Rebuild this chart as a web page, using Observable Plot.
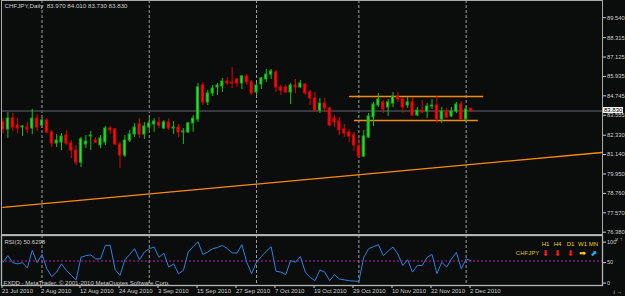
<!DOCTYPE html>
<html><head><meta charset="utf-8">
<script src="https://cdn.jsdelivr.net/npm/d3@7"></script>
<script src="https://cdn.jsdelivr.net/npm/@observablehq/plot@0.6"></script>
<style>
html,body{margin:0;padding:0;background:#0b0c0c;}
#chart{position:relative;width:625px;height:296px;background:#0b0c0c;overflow:hidden;font-family:"Liberation Sans",Arial,sans-serif;}
#chart svg{position:absolute;left:0;}
#bidbox{position:absolute;background:#f4f4f4;color:#000;font-size:6px;line-height:6.2px;height:6.2px;padding:0 1px;left:603px;overflow:hidden;}
</style></head><body><div id="chart"></div>
<script>
// ---- data (CHFJPY daily, 21 Jul 2010 .. 2 Dec 2010) ----
const open = [83.13,82.70,83.37,82.94,82.82,82.82,82.76,83.37,82.94,83.25, 82.52,81.84,81.90,82.33,81.84,81.41,80.67,81.78,82.27,82.02, 81.72,81.90,82.76,82.70,81.78,81.10,82.02,82.39,83.01,82.39, 82.82,83.01,83.13,82.76,83.13,82.76,82.82,82.52,82.52,83.07, 83.31,85.40,84.36,84.91,85.28,85.34,85.64,85.58,85.77,85.52, 85.95,85.58,84.97,85.46,85.77,86.07,86.20,85.28,85.28,84.97, 85.40,85.28,85.46,84.97,84.60,83.86,84.29,83.99,83.37,83.19, 82.70,82.52,82.33,81.66,81.04,82.21,83.44,84.17,84.36,84.05, 84.29,84.72,84.54,84.17,84.36,83.56,83.86,83.80,84.11,84.17, 83.31,83.80,83.50,83.80,84.23,83.31,83.970];
const high = [83.37,83.74,83.68,83.37,82.94,83.13,83.93,83.62,83.37,83.37, 82.64,82.39,82.45,82.64,82.02,81.72,82.21,82.33,82.58,82.21, 82.33,82.88,82.88,82.76,81.90,82.33,82.64,83.07,83.37,83.13, 83.37,83.37,83.44,83.25,83.37,83.19,83.01,82.76,83.13,83.56, 85.52,85.58,85.09,85.40,85.52,85.83,85.89,86.50,85.83,86.01, 86.07,85.71,85.52,85.89,86.38,86.38,86.32,85.40,85.40,85.52, 85.77,85.71,85.52,85.09,84.97,84.60,84.60,84.05,83.56,83.44, 83.01,82.70,82.52,82.15,82.64,83.68,84.36,84.91,84.48,84.54, 84.97,84.97,84.66,84.66,84.66,84.05,84.48,84.29,84.54,84.72, 84.05,83.99,84.05,84.36,84.42,84.11,84.010];
const low = [82.45,82.15,82.58,82.45,82.27,82.45,82.39,82.58,82.76,82.45, 81.60,81.60,81.41,81.72,80.92,80.49,80.37,81.53,81.41,81.84, 81.53,81.72,82.39,81.72,80.31,80.98,81.90,82.21,82.15,82.09, 82.64,82.52,82.76,82.70,82.64,82.39,82.21,81.78,82.45,82.52, 83.13,84.17,84.17,84.72,84.79,84.97,85.40,85.21,85.28,85.15, 85.40,84.79,84.79,85.15,85.58,85.77,84.97,84.79,84.91,84.23, 84.91,85.21,84.79,84.17,83.74,83.68,83.74,82.88,82.82,82.33, 82.21,81.90,81.35,80.92,80.98,82.15,82.88,84.05,83.68,83.50, 84.05,84.36,83.68,83.99,83.50,83.50,83.68,83.37,83.93,83.07, 83.07,83.37,83.44,83.68,83.25,83.13,83.730];
const close = [82.70,83.37,82.82,82.76,82.88,82.70,83.37,82.82,83.25,82.52, 81.84,82.02,82.27,81.84,81.41,80.67,82.09,81.96,82.33,81.90, 82.15,82.76,82.64,81.78,81.10,82.02,82.39,82.82,82.39,82.88, 83.07,83.19,82.94,83.13,82.76,82.82,82.52,82.58,83.07,83.37, 85.28,84.36,84.91,85.21,85.40,85.64,85.52,85.52,85.52,85.95, 85.58,84.91,85.40,85.83,86.07,86.26,85.28,85.09,84.97,85.40, 85.28,85.52,84.91,84.60,83.86,84.29,83.99,82.94,83.13,82.64, 82.45,82.27,81.72,81.04,82.27,83.50,84.23,84.54,83.93,84.36, 84.72,84.54,84.05,84.36,83.56,83.86,83.74,84.11,84.17,83.31, 83.80,83.44,83.80,84.23,83.31,83.93,83.830];
const rsi = [47,63,46,43,46,33,76,46,66,31, 12,23,43,27,15,4,59,63,65,55, 55,88,88,29,15,53,66,80,53,72, 80,84,59,69,35,43,19,27,72,85, 97,66,72,80,83,88,80,70,69,90, 47,19,47,61,74,85,25,23,17,51, 47,61,23,10,2,28,23,2,17,6, 4,2,1,0.5,59,80,85,90,63,74, 84,67,39,53,23,39,39,59,66,19, 47,35,55,71,31,55,50.63];
const dateTickIdx = [0,8,16,24,32,40,48,56,64,72,80,88,96];
const dateTickLabels = ["21 Jul 2010","2 Aug 2010","12 Aug 2010","24 Aug 2010","3 Sep 2010","15 Sep 2010","27 Sep 2010","7 Oct 2010","19 Oct 2010","29 Oct 2010","10 Nov 2010","22 Nov 2010","2 Dec 2010"];
const monthStartIdx = [8,30,52,73,95];
const priceTicks = [76.380,77.570,78.760,79.950,81.140,82.330,83.555,84.745,85.935,87.125,88.315,89.540];
const rsiTicks = [0,50,100];
const bid = 83.830;
const trendIdx = [0,123];
const trendPrice = [77.92,81.29];
const levelPrice = [84.72,83.25];
const levelFrom = [71.1,72.1];
const levelTo = [98.6,97.5];
const titleText = "CHFJPY,Daily  83.970 84.010 83.730 83.830";
const rsiTitle = "RSI(3) 50.6298";
const footer = "FXDD - MetaTrader, \u00a9 2001-2010 MetaQuotes Software Corp.";
const symbolName = "CHFJPY";
const tfLabels = ["H1","H4","D1","W1","MN"];
const tfArrows = ["\u2B07","\u2B07","\u2B07","\u27A1","\u2B08"];
const tfColors = ["#ff1a1a","#ff1a1a","#ff1a1a","#ffcc00","#19b5ff"];

// ---- build ----
const FG = "#cfcfcf";
const FONT = "Liberation Sans, Arial, sans-serif";
const bars = d3.range(close.length).map(i => ({i, o: open[i], h: high[i], l: low[i], c: close[i], up: close[i] >= open[i]}));
const trend = trendIdx.map((i, k) => ({i, v: trendPrice[k]}));
const levels = levelPrice.map((v, k) => ({v, i1: levelFrom[k], i2: levelTo[k]}));
const rsiData = rsi.map((v, i) => ({i, v}));
const xDomain = [-0.308, 122.97];
const sep = {stroke: "#9c9c9c", strokeDasharray: "3,2", strokeWidth: 1};
const tfX = [545, 557, 570, 582, 593]; // screen placement of the signal table columns

const main = Plot.plot({
  width: 625, height: 234, marginLeft: 1, marginRight: 23, marginTop: 0, marginBottom: 0,
  style: {background: "transparent", color: FG, fontFamily: FONT, fontSize: "6px", overflow: "visible"},
  x: {domain: xDomain, axis: null},
  y: {domain: [76.257, 90.613], axis: null},
  color: {type: "identity"},
  marks: [
    Plot.ruleX(monthStartIdx, sep),
    Plot.ruleY([bid], {stroke: "#474a4c", strokeWidth: 1.6}),
    Plot.line(trend, {x: "i", y: "v", stroke: "#ff8c00", strokeWidth: 1.3, clip: true}),
    Plot.ruleY(levels, {y: "v", x1: "i1", x2: "i2", stroke: "#f08a10", strokeWidth: 1.6}),
    Plot.ruleX(bars, {x: "i", y1: "l", y2: "h", stroke: d => d.up ? "#18c018" : "#e80000", strokeWidth: 1}),
    Plot.rect(bars, {x1: d => d.i - 0.22, x2: d => d.i + 0.22, y1: "o", y2: "c",
      fill: d => d.up ? "#22e822" : "#ff0a0a", stroke: d => d.up ? "#13b013" : "#e00000", strokeWidth: 1}),
    Plot.axisY(priceTicks, {anchor: "right", tickFormat: d => d.toFixed(3), tickSize: 3, tickPadding: 1.5, fontSize: 5.8, dy: -0.3, stroke: FG, fill: FG}),
    Plot.frame({stroke: "#a9a9a9", strokeWidth: 1}),
    Plot.text([titleText], {frameAnchor: "top-left", dx: 3, dy: 3, fill: FG, fontSize: 6.2, lineAnchor: "top"})
  ]
});
main.style.top = "0px";

const rsiPlot = Plot.plot({
  width: 625, height: 62, marginLeft: 1, marginRight: 23, marginTop: 1, marginBottom: 11,
  style: {background: "transparent", color: FG, fontFamily: FONT, fontSize: "6px", overflow: "visible"},
  x: {domain: xDomain, axis: null},
  y: {domain: [-9.76, 112.2], axis: null},
  marks: [
    Plot.ruleX(monthStartIdx, sep),
    Plot.ruleY([50], {stroke: "#b020b0", strokeDasharray: "2,2", strokeWidth: 1.2}),
    Plot.line(rsiData, {x: "i", y: "v", stroke: "#2a82e0", strokeWidth: 1}),
    Plot.axisY(rsiTicks, {anchor: "right", tickSize: 3, tickPadding: 1.5, fontSize: 5.6, dy: 1.6, stroke: FG, fill: FG}),
    Plot.axisX(dateTickIdx, {anchor: "bottom", tickFormat: i => dateTickLabels[dateTickIdx.indexOf(i)], textAnchor: "start", dx: -1, tickSize: 3, tickPadding: 0.5, fontSize: 6, stroke: FG, fill: FG}),
    Plot.frame({stroke: "#b4b4b4", strokeWidth: 1.3}),
    Plot.text([rsiTitle], {frameAnchor: "top-left", dx: 3, dy: 4, fill: FG, fontSize: 6, lineAnchor: "top"}),
    Plot.text([footer], {frameAnchor: "bottom-left", dx: 2, dy: -1, fill: FG, fontSize: 6, lineAnchor: "bottom"}),
    Plot.text([symbolName], {frameAnchor: "top-left", dx: 526, dy: 18, fill: "#d8c400", fontSize: 6, textAnchor: "middle", lineAnchor: "middle"}),
    ...tfLabels.map((t, k) => Plot.text([t], {frameAnchor: "top-left", dx: tfX[k] - 1, dy: 9, fill: "#e8d400", fontSize: 6, textAnchor: "middle", lineAnchor: "middle"})),
    ...tfArrows.map((t, k) => Plot.text([t], {frameAnchor: "top-left", dx: tfX[k] - 1, dy: 17.5, fill: tfColors[k], fontSize: 8, fontWeight: "bold", fontFamily: "DejaVu Sans", textAnchor: "middle", lineAnchor: "middle"}))
  ]
});
rsiPlot.style.top = "234px";

const chart = document.getElementById("chart");
chart.appendChild(main);
chart.appendChild(rsiPlot);

// bid price label on the price scale
const by = main.scale("y").apply(bid);
const box = document.createElement("div");
box.id = "bidbox";
box.textContent = bid.toFixed(3);
box.style.top = (by - 3.6) + "px";
chart.appendChild(box);
</script></body></html>
